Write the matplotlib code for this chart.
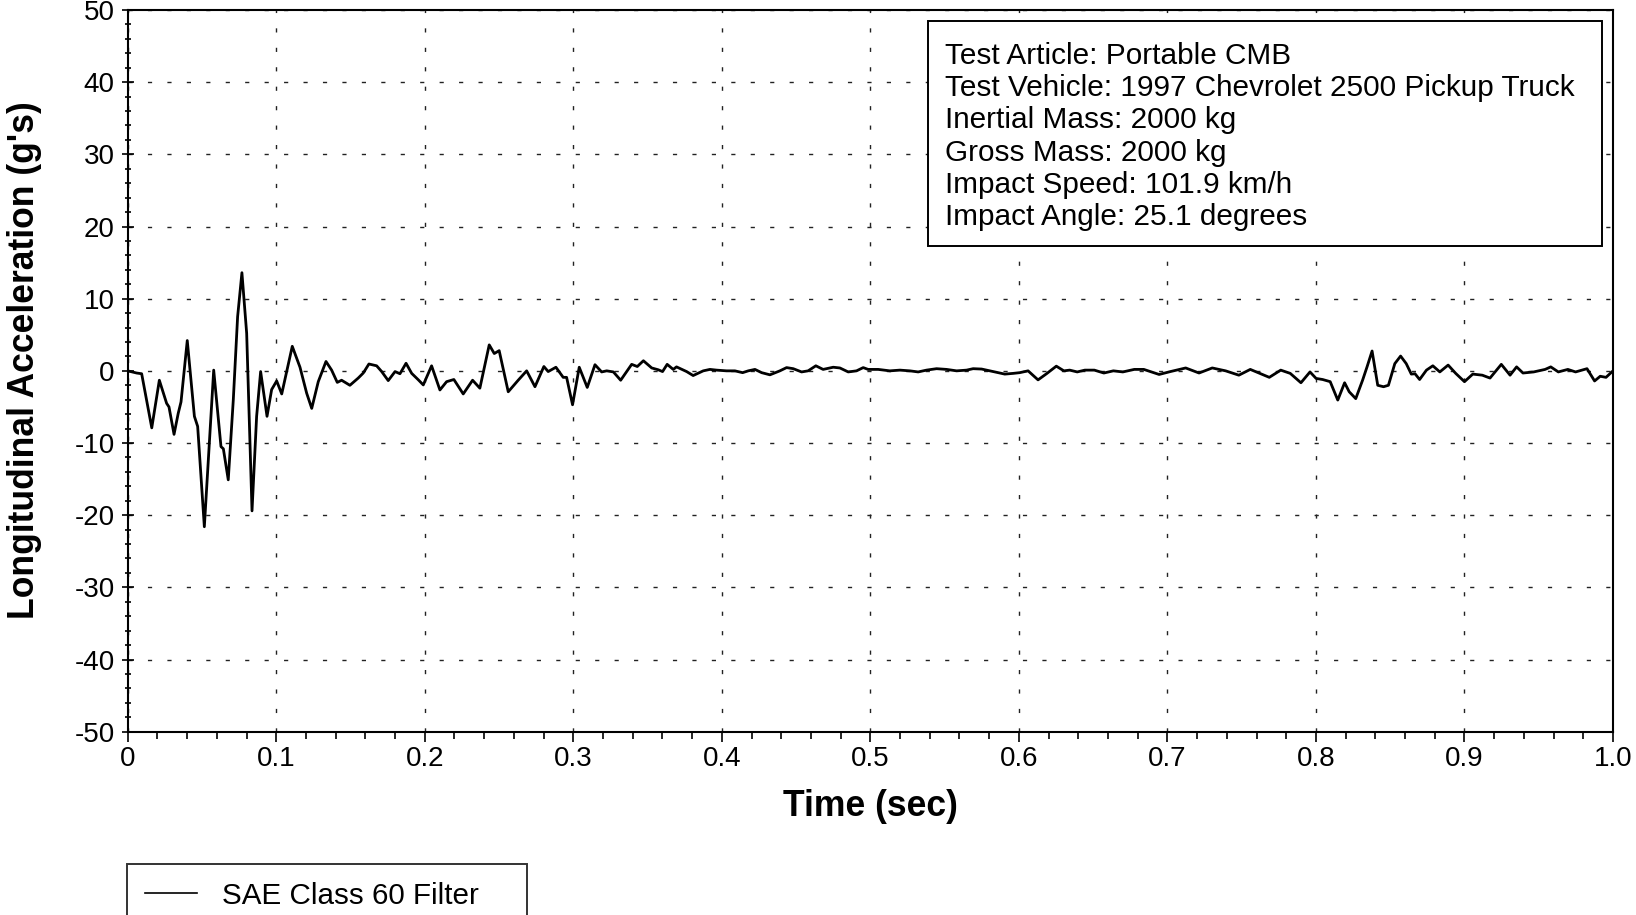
import matplotlib
matplotlib.use("Agg")
import matplotlib.pyplot as plt
from matplotlib.patches import Rectangle
from matplotlib.ticker import MultipleLocator

plt.rcParams['font.family'] = ['Liberation Sans', 'DejaVu Sans']
plt.rcParams['axes.unicode_minus'] = False

# time (sec) and longitudinal acceleration (g's)
time_s = [0.0, 0.006, 0.0094, 0.0162, 0.0213, 0.0262, 0.0278, 0.0312, 0.034, 0.0359,
          0.0401, 0.0449, 0.0471, 0.0516, 0.0579, 0.0628, 0.0644, 0.0677, 0.0711, 0.074,
          0.0769, 0.0801, 0.0837, 0.0868, 0.0895, 0.0938, 0.0969, 0.1003, 0.1037, 0.1108,
          0.116, 0.1205, 0.1239, 0.1283, 0.1335, 0.1373, 0.1411, 0.144, 0.1496, 0.1552,
          0.1586, 0.1624, 0.1676, 0.171, 0.1754, 0.18, 0.1833, 0.1874, 0.1912, 0.1957,
          0.199, 0.2046, 0.2102, 0.2147, 0.2196, 0.2259, 0.2322, 0.2371, 0.2434, 0.2468,
          0.2501, 0.2562, 0.2629, 0.2686, 0.2742, 0.2802, 0.2831, 0.2883, 0.2932, 0.2955,
          0.2995, 0.304, 0.3094, 0.3146, 0.3191, 0.3225, 0.327, 0.3319, 0.3393, 0.3431,
          0.3472, 0.3528, 0.3572, 0.3601, 0.3632, 0.3673, 0.3695, 0.3763, 0.3807, 0.3875,
          0.392, 0.3965, 0.4032, 0.4088, 0.414, 0.4178, 0.4223, 0.4268, 0.4324, 0.4391,
          0.4436, 0.4481, 0.4537, 0.4581, 0.4633, 0.4682, 0.475, 0.4795, 0.4851, 0.4907,
          0.4952, 0.4985, 0.5053, 0.5131, 0.5199, 0.5266, 0.5322, 0.5378, 0.5446, 0.5513,
          0.5581, 0.5648, 0.5692, 0.5749, 0.5827, 0.5905, 0.5962, 0.6006, 0.6062, 0.6129,
          0.6188, 0.6252, 0.6303, 0.6342, 0.6393, 0.6444, 0.6508, 0.6572, 0.6636, 0.670,
          0.6777, 0.6841, 0.6944, 0.702, 0.7123, 0.7213, 0.7302, 0.7392, 0.7481, 0.7558,
          0.7622, 0.7686, 0.7763, 0.7827, 0.7899, 0.796, 0.8001, 0.8045, 0.8096, 0.8147,
          0.8193, 0.8224, 0.8268, 0.8314, 0.8344, 0.8378, 0.8416, 0.8455, 0.8488, 0.8531,
          0.857, 0.8608, 0.8642, 0.8667, 0.8698, 0.8744, 0.8787, 0.8834, 0.889, 0.8941,
          0.900, 0.9056, 0.912, 0.9172, 0.9248, 0.9307, 0.9351, 0.9394, 0.9466, 0.9543,
          0.9581, 0.9632, 0.9696, 0.9748, 0.9825, 0.9876, 0.9914, 0.9953, 1.0]
accel_g = [0.0, -0.3, -0.4, -7.9, -1.3, -4.5, -5.0, -8.8, -5.9, -4.3,
           4.2, -6.3, -7.7, -21.6, 0.1, -10.5, -10.8, -15.1, -4.0, 7.5,
           13.6, 5.2, -19.4, -6.3, -0.1, -6.3, -2.6, -1.4, -3.2, 3.4,
           0.5, -3.1, -5.2, -1.5, 1.3, 0.1, -1.6, -1.3, -2.0, -1.0,
           -0.3, 0.95, 0.7, -0.1, -1.35, -0.1, -0.4, 1.05, -0.35, -1.25,
           -1.95, 0.7, -2.65, -1.5, -1.2, -3.2, -1.3, -2.4, 3.6, 2.4,
           2.8, -2.9, -1.3, 0.0, -2.2, 0.6, -0.1, 0.5, -0.9, -0.9,
           -4.7, 0.5, -2.3, 0.85, -0.15, 0.0, -0.15, -1.3, 0.9, 0.6,
           1.4, 0.4, 0.15, -0.1, 0.9, 0.2, 0.55, -0.1, -0.65, 0.0,
           0.2, 0.1, 0.0, 0.0, -0.25, 0.0, 0.2, -0.25, -0.55, 0.0,
           0.45, 0.3, -0.15, 0.0, 0.7, 0.2, 0.5, 0.4, -0.15, 0.0,
           0.45, 0.2, 0.2, 0.0, 0.1, 0.0, -0.15, 0.1, 0.3, 0.2,
           0.0, 0.1, 0.3, 0.25, -0.1, -0.45, -0.35, -0.25, 0.0, -1.25,
           -0.37, 0.65, 0.0, 0.1, -0.15, 0.1, 0.1, -0.3, 0.0, -0.15,
           0.2, 0.2, -0.5, -0.1, 0.4, -0.3, 0.4, 0.0, -0.6, 0.2,
           -0.35, -0.9, 0.1, -0.35, -1.65, -0.15, -1.05, -1.2, -1.5, -4.05,
           -1.65, -2.9, -3.85, -1.3, 0.55, 2.75, -2.0, -2.2, -2.0, 1.0,
           2.05, 1.0, -0.45, -0.4, -1.2, 0.1, 0.7, -0.15, 0.8, -0.35,
           -1.5, -0.45, -0.6, -1.0, 0.9, -0.6, 0.55, -0.3, -0.15, 0.2,
           0.55, -0.15, 0.2, -0.15, 0.3, -1.4, -0.75, -0.9, 0.0]

x_ticks = [0, 0.1, 0.2, 0.3, 0.4, 0.5, 0.6, 0.7, 0.8, 0.9, 1.0]
x_tick_labels = ["0", "0.1", "0.2", "0.3", "0.4", "0.5", "0.6", "0.7", "0.8", "0.9", "1.0"]
y_ticks = [-50, -40, -30, -20, -10, 0, 10, 20, 30, 40, 50]

info_lines = ["Test Article: Portable CMB",
              "Test Vehicle: 1997 Chevrolet 2500 Pickup Truck",
              "Inertial Mass: 2000 kg",
              "Gross Mass: 2000 kg",
              "Impact Speed: 101.9 km/h",
              "Impact Angle: 25.1 degrees"]
series_label = "SAE Class 60 Filter"

W, H = 1636, 915
fig = plt.figure(figsize=(W / 100, H / 100), dpi=100)
# axes box in pixels: x 127.7..1613, y 10..731.7
ax = fig.add_axes([127.7 / W, 1 - 731.7 / H, (1613 - 127.7) / W, (731.7 - 10) / H])

line, = ax.plot(time_s, accel_g, color='black', lw=2.0, solid_joinstyle='round',
                label=series_label)

ax.set_xlim(0, 1.0)
ax.set_ylim(-50, 50)
ax.set_xticks(x_ticks)
ax.set_xticklabels(x_tick_labels)
ax.set_yticks(y_ticks)
ax.set_yticklabels([str(v) for v in y_ticks])
ax.xaxis.set_minor_locator(MultipleLocator(0.02))
ax.yaxis.set_minor_locator(MultipleLocator(2))

ax.tick_params(axis='x', which='major', direction='out', length=7.2, width=1.2,
               labelsize=20, pad=3)
ax.tick_params(axis='x', which='minor', direction='out', length=4.8, width=1.2)
ax.tick_params(axis='y', which='major', direction='inout', length=9, width=1.2,
               labelsize=20, pad=5)
ax.tick_params(axis='y', which='minor', direction='inout', length=4.5, width=1.2)

ax.grid(True, which='major', color='#222222', lw=1.0, linestyle=(0, (3, 11)))
for s in ax.spines.values():
    s.set_linewidth(1.5)

ax.set_xlabel("Time (sec)", fontsize=25.6, fontweight='bold')
ax.set_ylabel("Longitudinal Acceleration (g's)", fontsize=25.6, fontweight='bold')
ax.xaxis.set_label_coords(0.5, -0.079)
ax.yaxis.set_label_coords(-0.0577, 0.515)

# info box
ax.add_patch(Rectangle((0.5386, 0.673), 0.9923 - 0.5386, 0.9848 - 0.673,
                       transform=ax.transAxes, fill=True, facecolor='white',
                       edgecolor='black', lw=1.4, zorder=5))
ax.text(0.5503, 0.9557, "\n".join(info_lines), transform=ax.transAxes,
        fontsize=21.4, va='top', ha='left', linespacing=1.19, zorder=6)

leg = fig.legend(handles=[line], loc='upper left',
                 bbox_to_anchor=(127.3 / W, 1 - 864 / H, 399.4 / W, 0),
                 mode='expand', borderaxespad=0, fontsize=21.3, frameon=True,
                 fancybox=False, handlelength=1.75, handletextpad=0.85,
                 borderpad=0.6)
leg.get_frame().set_edgecolor('black')
leg.get_frame().set_linewidth(1.4)
leg.get_lines()[0].set_linewidth(1.2)

fig.savefig("out.png", dpi=100)
